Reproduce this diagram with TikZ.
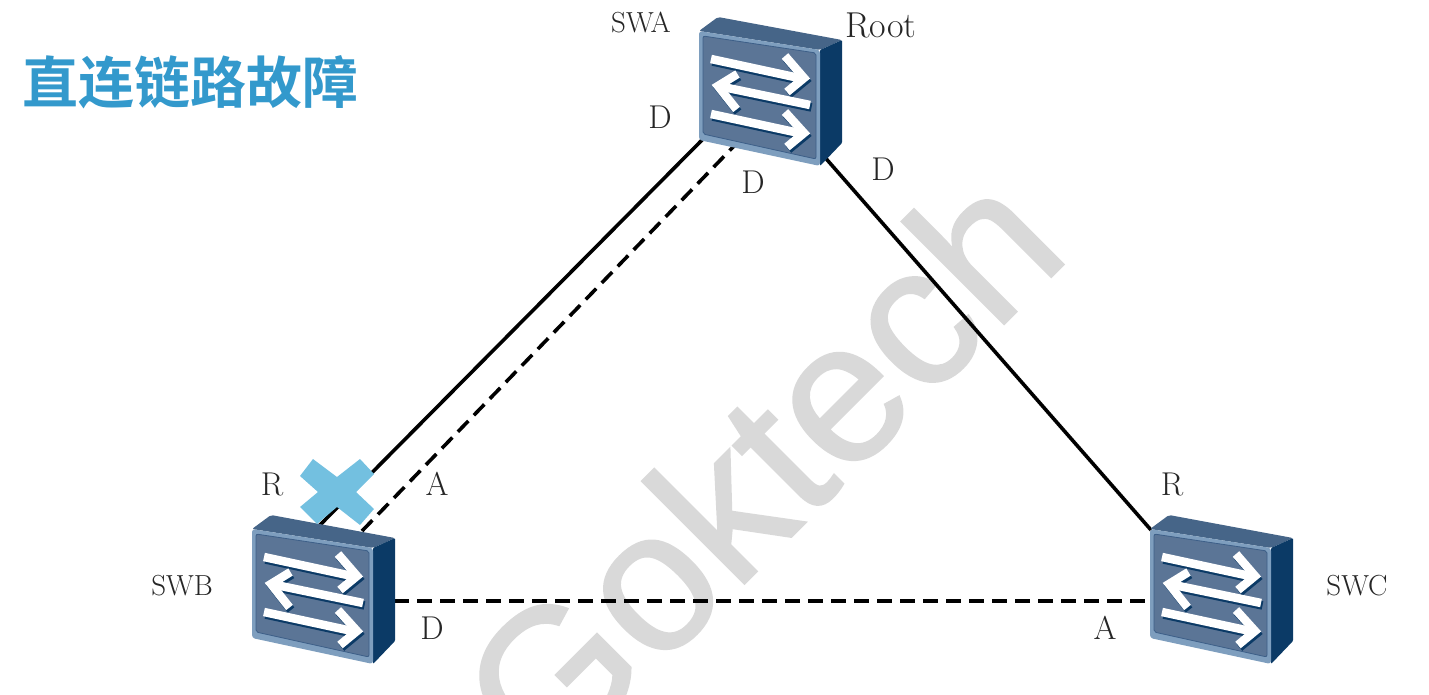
\documentclass[tikz,border=0pt]{standalone}
\usepackage{fontspec}
\newfontfamily\cjk{Noto Sans CJK SC Bold}
\newfontfamily\wm[FakeBold=1]{Liberation Sans}
\definecolor{titleblue}{HTML}{3399CC}
\definecolor{crossblue}{HTML}{73C0E0}
\definecolor{swface}{HTML}{5B7596}
\definecolor{swrim}{HTML}{7E9EBE}
\definecolor{swline}{HTML}{3D5F88}
\definecolor{swtop}{HTML}{466588}
\definecolor{swside}{HTML}{0B3A66}
\definecolor{wmgray}{HTML}{D9D9D9}
\tikzset{
  x=1pt,y=-1pt,
  link/.style={line width=3.6pt,black},
  dashlink/.style={link,dash pattern=on 15pt off 8pt},
  lab/.style={inner sep=0pt,font=\fontsize{33}{33}\selectfont,text=black!85},
  swname/.style={inner sep=0pt,font=\fontsize{29}{29}\selectfont,text=black!85},
  swbox/.style={inner sep=0pt,minimum width=143pt,minimum height=149pt},
  arrowline/.style={line width=8.5pt,#1},
  pics/switch/.style={code={
    \fill[swtop,rounded corners=2pt] (0,0) -- (19,-14) -- (143,9) -- (121,19) -- cycle;
    \fill[swside,rounded corners=1pt] (121,19) -- (143,9) -- (143,112) -- (121,135) -- cycle;
    \fill[swrim,rounded corners=3pt] (0,0) -- (121,19) -- (121,135) -- (0,109) -- cycle;
    \filldraw[draw=swline,line width=.8pt,fill=swface,rounded corners=2pt] (4,5) -- (117,22) -- (117,128) -- (4,103) -- cycle;
    \begin{scope}[shift={(1.5,2.5)}]
      \draw[arrowline=swside] (12,28) -- (100,47);
      \draw[arrowline=swside] (86,25) -- (105,47) -- (88,61);
      \draw[arrowline=swside] (111,74) -- (24,56);
      \draw[arrowline=swside] (38.5,43) -- (19,55) -- (37.5,78.5);
      \draw[arrowline=swside] (12,83) -- (100,102);
      \draw[arrowline=swside] (86,81) -- (105,102) -- (88,116);
    \end{scope}
    \draw[arrowline=white] (12,28) -- (100,47);
    \draw[arrowline=white] (86,25) -- (105,47) -- (88,61);
    \draw[arrowline=white] (111,74) -- (24,56);
    \draw[arrowline=white] (38.5,43) -- (19,55) -- (37.5,78.5);
    \draw[arrowline=white] (12,83) -- (100,102);
    \draw[arrowline=white] (86,81) -- (105,102) -- (88,116);
  }}
}
\begin{document}
\begin{tikzpicture}
\useasboundingbox (0,0) rectangle (1429,695);
\begin{scope}
\clip (0,0) rectangle (1429,695);
\node[rotate=45,inner sep=0pt,text=wmgray,font=\wm\fontsize{200}{200}\selectfont] (wm) at (759,468) {Goktech};
\end{scope}
\node[inner sep=0pt,text=titleblue,font=\cjk\fontsize{56}{56}\selectfont] (title) at (190,82) {直连链路故障};

\node[swbox] (swa) at (770.5,91) {};
\node[swbox] (swb) at (323.5,589) {};
\node[swbox] (swc) at (1221.5,589) {};
\coordinate (a1) at (704,138);
\coordinate (a2) at (735,145);
\coordinate (a3) at (822,154);
\coordinate (b1) at (318,527);
\coordinate (b2) at (362,531);
\coordinate (b3) at (394,601);
\coordinate (c1) at (1151,530);
\coordinate (c2) at (1150,601);
\draw[link] (a1) -- (b1);
\draw[dashlink] (b2) -- (a2);
\draw[link] (a3) -- (c1);
\draw[dashlink] (b3) -- (c2);

\pic at (699,31) {switch};
\pic at (252,529) {switch};
\pic at (1150,529) {switch};

\fill[crossblue] (313,459) -- (337,477) -- (360,459) -- (374,474) -- (356,492) -- (374,509) -- (360,525) -- (337,507) -- (317,524) -- (300,507) -- (318,492) -- (300,476) -- cycle;

\node[swname] (la) at (641,22) {SWA};
\node[swname] (lb) at (182,586) {SWB};
\node[swname] (lc) at (1357,586) {SWC};
\node[lab,font=\fontsize{36}{36}\selectfont] (root) at (881,25) {Root};
\node[lab] (d1) at (660,117) {D};
\node[lab] (d2) at (753,182) {D};
\node[lab] (d3) at (883,169) {D};
\node[lab] (r1) at (272,484) {R};
\node[lab] (a4) at (437,484) {A};
\node[lab] (d4) at (432,628) {D};
\node[lab] (a5) at (1105,628) {A};
\node[lab] (r2) at (1172,484) {R};
\end{tikzpicture}
\end{document}
